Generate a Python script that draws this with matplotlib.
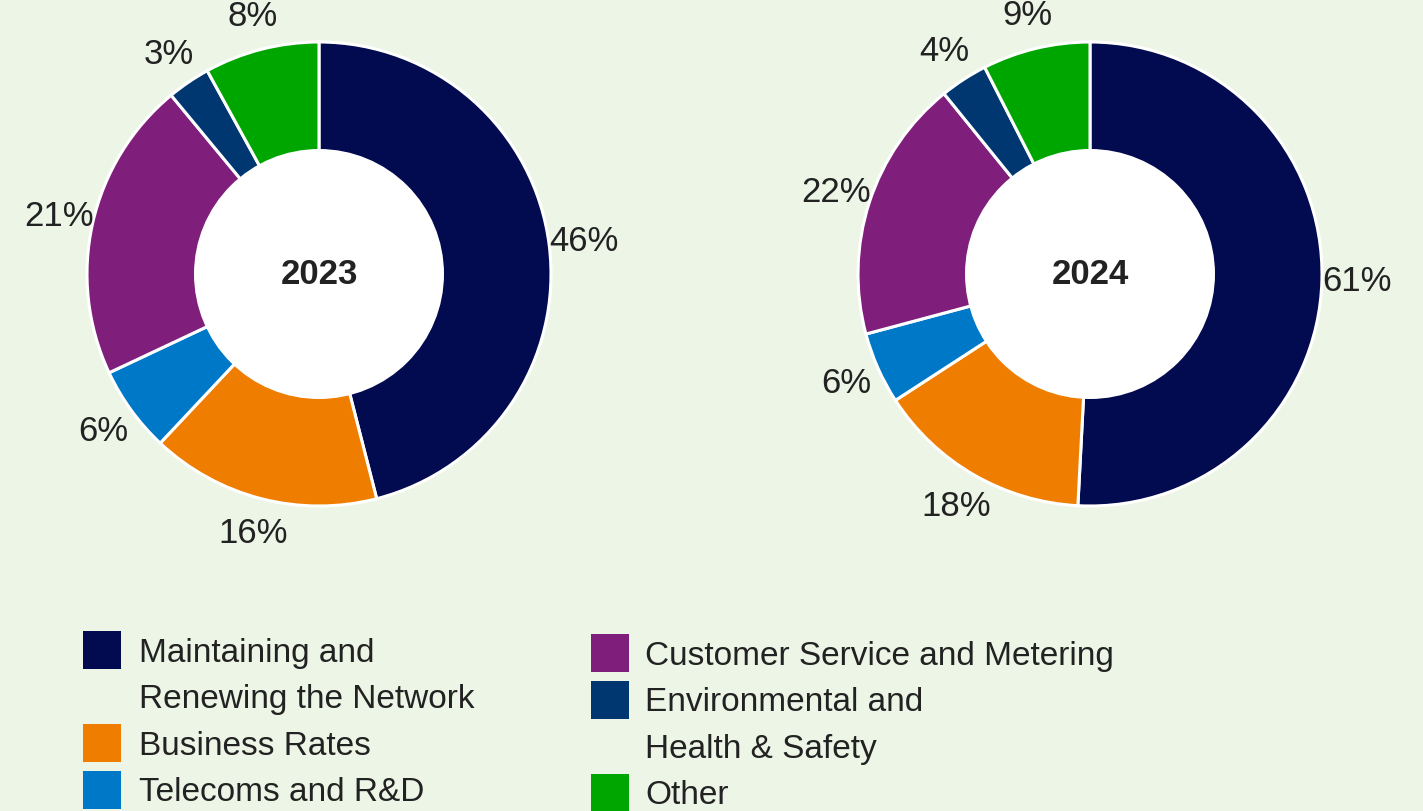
import matplotlib
matplotlib.use("Agg")
import matplotlib.pyplot as plt
from matplotlib.patches import Rectangle, Circle

plt.rcParams['font.family'] = ['Liberation Sans', 'DejaVu Sans']

categories = ["Maintaining and\nRenewing the Network", "Business Rates", "Telecoms and R&D",
              "Customer Service and Metering", "Environmental and\nHealth & Safety", "Other"]
colors = ["#020a50", "#ee7d00", "#0078c8", "#7f1f7b", "#003770", "#00a600"]
years = ["2023", "2024"]
values_2023 = [46, 16, 6, 21, 3, 8]
values_2024 = [61, 18, 6, 22, 4, 9]

W, H = 1423, 812
bg = "#edf5e7"
txt = "#222222"

fig = plt.figure(figsize=(W / 100, H / 100), dpi=100, facecolor=bg)


def px(x, y):
    # pixel (top-left origin) -> figure fraction
    return x / W, 1 - y / H


R = 232
centers = [(319, 275), (1090, 275)]
for year, vals, (cx, cy) in zip(years, [values_2023, values_2024], centers):
    left, top = px(cx - R, cy - R)
    ax = fig.add_axes([left, top - 2 * R / H, 2 * R / W, 2 * R / H])
    ax.set_facecolor("none")
    total = sum(vals)
    wedges, _, autotexts = ax.pie(
        vals, colors=colors, startangle=90, counterclock=False, radius=1,
        autopct=lambda p, t=total: f"{p * t / 100:.0f}%", pctdistance=1.15,
        wedgeprops=dict(edgecolor="white", linewidth=2.2),
        textprops=dict(fontsize=25, color=txt))
    ax.add_patch(Circle((0, 0), 125 / R, facecolor="white", edgecolor="none", zorder=5))
    ax.text(0, 0, year, ha="center", va="center", fontsize=25, fontweight="bold",
            color=txt, zorder=6)
    ax.set_xlim(-1, 1)
    ax.set_ylim(-1, 1)
    ax.set_aspect("equal")
    ax.axis("off")

# legend drawn by hand in two columns
columns = [(83, 139, 662, [0, 1, 2]), (591, 645, 665, [3, 4, 5])]
step = 46.5
sq = 38
for sq_x, text_x, base0, idxs in columns:
    line = 0
    for i in idxs:
        base = base0 + line * step
        x0, y0 = px(sq_x, base + 8)
        fig.add_artist(Rectangle((x0, y0), sq / W, sq / H, transform=fig.transFigure,
                                 facecolor=colors[i], edgecolor="none"))
        for k, part in enumerate(categories[i].split("\n")):
            tx, ty = px(text_x, base + k * step)
            fig.text(tx, ty, part, ha="left", va="baseline", fontsize=24, color=txt)
        line += categories[i].count("\n") + 1

fig.savefig("out.png", dpi=100, facecolor=bg)
